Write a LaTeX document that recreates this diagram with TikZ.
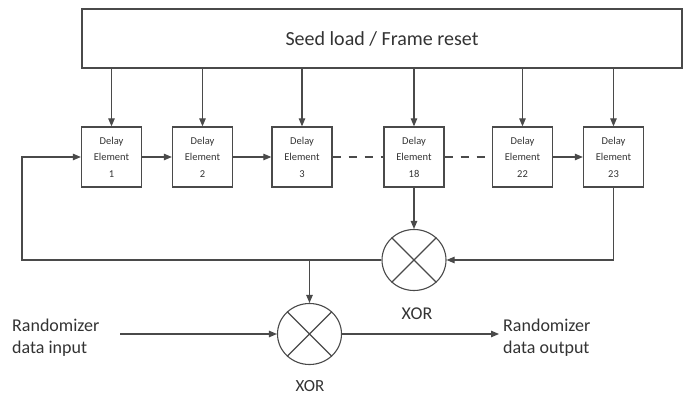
\documentclass[tikz,border=0pt]{standalone}
\usepackage{fontspec}
\setmainfont{Carlito}
\usetikzlibrary{arrows.meta,shapes.geometric}
\definecolor{lfsrline}{HTML}{4A4A4A}
\definecolor{lfsrtext}{HTML}{333333}

\begin{document}
\begin{tikzpicture}[x=1pt,y=-1pt,
  delay/.style={draw=lfsrline,line width=1.3pt,minimum width=60pt,minimum height=60pt,
                inner sep=0pt,align=center,text=lfsrtext,font=\fontsize{10.5}{16.5}\selectfont},
  xorgate/.style={draw=lfsrline,line width=1.1pt,ellipse,minimum width=64pt,
                  minimum height=61pt,inner sep=0pt},
  wire/.style={lfsrline,line width=1.1pt},
  feed/.style={wire,-{Triangle[length=8pt,width=6.5pt]}},
  lbl/.style={font=\fontsize{18}{22}\selectfont,text=lfsrtext,align=left,inner sep=0pt}]
  \useasboundingbox (0,0) rectangle (683,398);
  % seed register across the top
  \node[draw=lfsrline,line width=1.3pt,minimum width=600pt,minimum height=59pt,
        font=\fontsize{20}{22}\selectfont,text=lfsrtext] (seed) at (382,38.5)
       {Seed load / Frame reset};
  % delay elements, each loaded from the seed register
  \foreach \x/\name/\num in {111.5/d1/1, 202.5/d2/2, 302/d3/3,
                             414/d18/18, 522.5/d22/22, 613.5/d23/23}{
    \node[delay] (\name) at (\x,157) {Delay\\Element\\\num};
    \draw[feed] (seed.south -| \name.north) -- (\name.north);}
  % shift chain
  \draw[feed] (d1) -- (d2);
  \draw[feed] (d2) -- (d3);
  \draw[wire,dash pattern=on 8pt off 8pt] (d3) -- (d18);
  \draw[wire,dash pattern=on 8pt off 8pt] (d18) -- (d22);
  \draw[feed] (d22) -- (d23);
  % xor gates
  \node[xorgate] (xor1) at (414,260) {};
  \node[xorgate] (xor2) at (309.5,334) {};
  \foreach \g in {xor1,xor2}
    \draw[wire] (\g.45) -- (\g.225) (\g.135) -- (\g.-45);
  \node[lbl] (xor1lbl) at (417,314) {XOR};
  \node[lbl,font=\fontsize{17}{20}\selectfont] (xor2lbl) at (310,386) {XOR};
  % feedback taps
  \coordinate (backleft) at (22,260);
  \coordinate (tap) at (309.5,260);
  \draw[feed] (d18) -- (xor1);
  \draw[feed] (d23.south) |- (xor1.east);
  \draw[feed] (xor1.west) -- (backleft) |- (d1.west);
  \draw[feed] (tap) -- (xor2.north);
  % data in / out
  \node[lbl,anchor=west] (datain) at (12,338) {Randomizer\\data input};
  \node[lbl,anchor=west] (dataout) at (503,338) {Randomizer\\data output};
  \coordinate (inend) at (120,334);
  \coordinate (outend) at (499,334);
  \draw[feed] (inend) -- (xor2.west);
  \draw[feed] (xor2.east) -- (outend);
\end{tikzpicture}
\end{document}
